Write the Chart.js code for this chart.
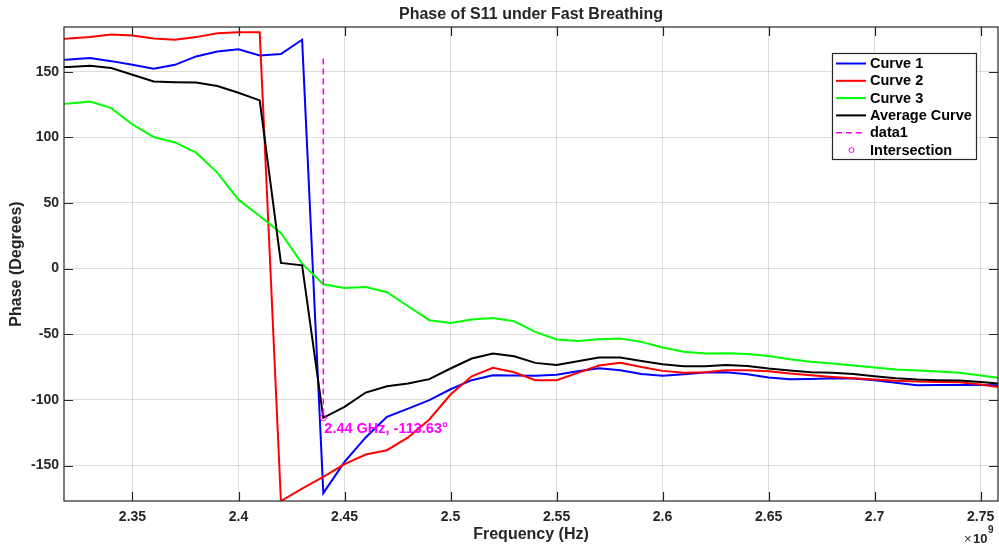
<!DOCTYPE html>
<html>
<head>
<meta charset="utf-8">
<script src="https://cdn.jsdelivr.net/npm/chart.js@4/dist/chart.umd.min.js"></script>
<style>
  body { margin: 0; background: #fff; }
  canvas { display: block; }
</style>
</head>
<body>
<canvas id="myChart" width="999" height="546"></canvas>
<script>
let freqs = [2.31, 2.32, 2.33, 2.34, 2.35, 2.36, 2.37, 2.38, 2.39, 2.40,
  2.41, 2.42, 2.43, 2.44, 2.45, 2.46, 2.47, 2.48, 2.49, 2.50,
  2.51, 2.52, 2.53, 2.54, 2.55, 2.56, 2.57, 2.58, 2.59, 2.60,
  2.61, 2.62, 2.63, 2.64, 2.65, 2.66, 2.67, 2.68, 2.69, 2.70,
  2.71, 2.72, 2.73, 2.74, 2.75, 2.76];

let curve1 = [158.5, 159.2, 160.3, 158, 155.2, 152.2, 155.2, 161.6, 165.4, 167.1,
  162.3, 163.4, 174.3, -171, -147.2, -128.6, -112.9, -106.6, -100.2, -91.9,
  -85, -81.2, -81.5, -81.7, -80.9, -78.2, -75.9, -77.4, -80.2, -81.7,
  -80.4, -79.2, -78.9, -80.4, -83, -84.3, -84, -83.5, -83.7, -85,
  -87, -88.8, -88.6, -88.6, -88.6, -88.8];

let curve2 = [174.5, 175.2, 176.3, 178.3, 177.5, 175.3, 174.3, 176.3, 179.2, 180,
  180, -177, -167.5, -158.6, -148.9, -141.6, -138.3, -128.6, -114.9, -95.9,
  -82, -75.6, -78.9, -85, -85, -79.4, -73.8, -71.8, -74.9, -77.9,
  -79.4, -78.9, -77.4, -77.4, -78.2, -79.9, -81.2, -82.5, -83.5, -84.5,
  -85.5, -86, -86.3, -86.5, -88.3, -90.5];

let curve3 = [125, 125.8, 127.3, 122.2, 109.8, 100.2, 96.1, 88.3, 73.1, 52.5,
  40, 27.1, 3.8, -11.9, -14.8, -14, -18, -28.7, -39.3, -41.4,
  -38.8, -37.6, -40.1, -48.2, -54, -55.1, -53.8, -53.3, -55.8, -60.1,
  -63.4, -64.7, -64.5, -65, -66.5, -69, -71, -72.3, -73.8, -75.3,
  -76.9, -77.6, -78.4, -79.4, -81.4, -83.6];

let average = [153, 153.6, 154.5, 152.7, 147.6, 142.5, 142, 141.8, 139, 133.9,
  128.1, 4.3, 2.5, -113.63, -105.3, -94.4, -89.6, -87.5, -84.2, -76.1,
  -68.5, -64.7, -66.7, -71.8, -73.4, -70.5, -67.7, -67.7, -70.3, -72.8,
  -74.4, -74.4, -73.4, -74.1, -76.1, -77.6, -78.9, -79.4, -80.2, -82,
  -83.5, -84.5, -85, -85.2, -86.3, -87.8];

let markerFreq = 2.44;
let markerTop = 160;
let markerPhase = -113.63;

let xTicks = [2.35, 2.4, 2.45, 2.5, 2.55, 2.6, 2.65, 2.7, 2.75];
let yTicks = [-150, -100, -50, 0, 50, 100, 150];

const FONT = "'Liberation Sans', Arial, Helvetica, sans-serif";
const INK = "#262626";

function points(values) {
  return freqs.map((f, i) => ({ x: f, y: values[i] }));
}

function curve(label, values, color, order) {
  return {
    label: label,
    data: points(values),
    borderColor: color,
    backgroundColor: color,
    borderWidth: 2,
    pointRadius: 0,
    tension: 0,
    order: order,
  };
}

let decorations = {
  id: "decorations",
  afterDraw(chart) {
    let ctx = chart.ctx;
    let a = chart.chartArea;
    let xs = chart.scales.x;
    let ys = chart.scales.y;
    ctx.save();

    // box and inward ticks
    ctx.strokeStyle = INK;
    ctx.lineWidth = 1.2;
    ctx.strokeRect(a.left, a.top, a.right - a.left, a.bottom - a.top);
    ctx.beginPath();
    xTicks.forEach((t) => {
      let px = Math.round(xs.getPixelForValue(t)) + 0.5;
      ctx.moveTo(px, a.bottom); ctx.lineTo(px, a.bottom - 9);
      ctx.moveTo(px, a.top); ctx.lineTo(px, a.top + 9);
    });
    yTicks.forEach((t) => {
      let py = Math.round(ys.getPixelForValue(t)) + 0.5;
      ctx.moveTo(a.left, py); ctx.lineTo(a.left + 9, py);
      ctx.moveTo(a.right, py); ctx.lineTo(a.right - 9, py);
    });
    ctx.stroke();

    // titles
    ctx.fillStyle = INK;
    ctx.textAlign = "center";
    ctx.textBaseline = "middle";
    ctx.font = "bold 16px " + FONT;
    ctx.fillText("Phase of S11 under Fast Breathing", (a.left + a.right) / 2, 15);
    ctx.fillText("Frequency (Hz)", (a.left + a.right) / 2, 535);
    ctx.save();
    ctx.translate(17, (a.top + a.bottom) / 2);
    ctx.rotate(-Math.PI / 2);
    ctx.fillText("Phase (Degrees)", 0, 0);
    ctx.restore();

    // x10^9
    ctx.textAlign = "left";
    ctx.font = "13px " + FONT;
    ctx.fillText("\u00d7", 964, 539);
    ctx.font = "bold 13px " + FONT;
    ctx.fillText("10", 973, 539);
    ctx.font = "bold 10px " + FONT;
    ctx.fillText("9", 988, 530);

    // intersection label
    ctx.fillStyle = "#FF00FF";
    ctx.font = "bold 14.5px " + FONT;
    ctx.fillText("2.44 GHz, -113.63\u00b0", xs.getPixelForValue(markerFreq) + 1, ys.getPixelForValue(markerPhase) + 11);

    // legend
    let lx = 832, ly = 53, lw = 144, lh = 106;
    ctx.fillStyle = "#fff";
    ctx.fillRect(lx, ly, lw, lh);
    ctx.strokeStyle = INK;
    ctx.lineWidth = 1.2;
    ctx.strokeRect(lx + 0.5, ly + 0.5, lw, lh);
    ctx.font = "bold 14.5px " + FONT;
    chart.data.datasets.forEach((ds, i) => {
      let y = 63.5 + i * 17.3;
      if (ds.showLine === false) {
        ctx.strokeStyle = ds.borderColor;
        ctx.lineWidth = 1;
        ctx.beginPath();
        ctx.arc(851.5, y, 2.5, 0, Math.PI * 2);
        ctx.stroke();
      } else {
        ctx.strokeStyle = ds.borderColor;
        ctx.lineWidth = ds.borderWidth;
        ctx.setLineDash(ds.borderDash || []);
        ctx.beginPath();
        ctx.moveTo(836, y);
        ctx.lineTo(866, y);
        ctx.stroke();
        ctx.setLineDash([]);
      }
      ctx.fillStyle = "#000";
      ctx.fillText(ds.label, 870, y + 0.5);
    });
    ctx.restore();
  },
};

let chart = new Chart(document.getElementById("myChart"), {
  type: "line",
  data: {
    datasets: [
      curve("Curve 1", curve1, "#0000FF", 6),
      curve("Curve 2", curve2, "#FF0000", 5),
      curve("Curve 3", curve3, "#00FF00", 4),
      curve("Average Curve", average, "#000000", 3),
      {
        label: "data1",
        data: [{ x: markerFreq, y: markerTop }, { x: markerFreq, y: markerPhase }],
        borderColor: "#FF00FF",
        borderWidth: 1.6,
        borderDash: [6, 4],
        pointRadius: 0,
        order: 2,
      },
      {
        label: "Intersection",
        data: [{ x: markerFreq, y: markerPhase }],
        showLine: false,
        borderColor: "#FF00FF",
        backgroundColor: "rgba(0,0,0,0)",
        borderWidth: 1,
        pointRadius: 3,
        order: 1,
      },
    ],
  },
  options: {
    responsive: false,
    animation: false,
    devicePixelRatio: 1,
    layout: { autoPadding: false, padding: { top: 27, right: 1, left: 0, bottom: 0 } },
    plugins: {
      legend: { display: false },
      title: { display: false },
      tooltip: { enabled: false },
    },
    scales: {
      x: {
        type: "linear",
        min: 2.3177,
        max: 2.7582,
        afterFit: (s) => { s.height = 45; s.paddingLeft = 0; s.paddingRight = 0; },
        afterBuildTicks: (s) => { s.ticks = xTicks.map((v) => ({ value: v })); },
        ticks: {
          padding: 8,
          color: INK,
          font: { family: FONT, size: 14, weight: "bold" },
          callback: (v) => String(+v.toFixed(2)),
        },
        grid: { color: "rgba(0,0,0,0.13)", lineWidth: 1, drawTicks: false },
        border: { display: false },
      },
      y: {
        min: -177,
        max: 184,
        afterFit: (s) => { s.width = 64; s.paddingTop = 0; s.paddingBottom = 0; },
        afterBuildTicks: (s) => { s.ticks = yTicks.map((v) => ({ value: v })); },
        ticks: {
          padding: 5,
          color: INK,
          font: { family: FONT, size: 14, weight: "bold" },
          callback: (v) => String(v),
        },
        grid: { color: "rgba(0,0,0,0.13)", lineWidth: 1, drawTicks: false },
        border: { display: false },
      },
    },
  },
  plugins: [decorations],
});
</script>
</body>
</html>
